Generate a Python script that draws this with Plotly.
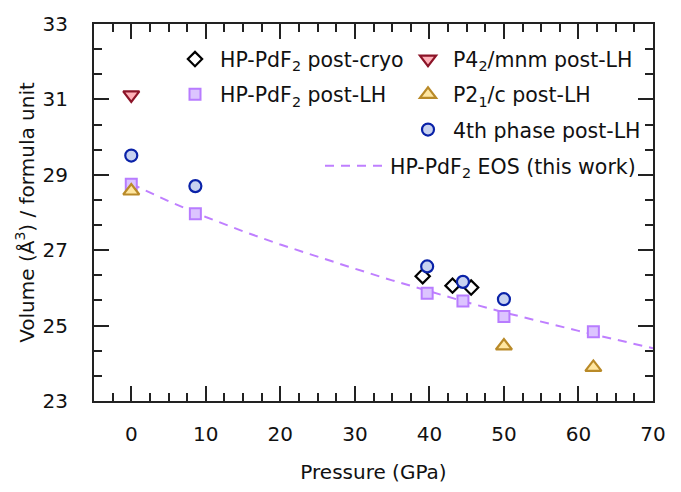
import plotly.graph_objects as go

# Pressure (GPa) and volume per formula unit (Å^3) for each phase
cryo_p = [39.1, 43.1, 45.6]
cryo_v = [26.31, 26.06, 26.01]

hp_lh_p = [0.0, 8.6, 39.7, 44.5, 50.0, 62.0]
hp_lh_v = [28.75, 27.97, 25.86, 25.65, 25.24, 24.84]

p42_p = [0.0]
p42_v = [31.12]

p21_p = [0.0, 50.0, 62.0]
p21_v = [28.57, 24.46, 23.89]

fourth_p = [0.0, 8.6, 39.7, 44.5, 50.0]
fourth_v = [29.51, 28.70, 26.57, 26.16, 25.70]

# HP-PdF2 equation of state curve
eos_p = [0, 5, 10, 15, 20, 25, 30, 35, 40, 45, 50, 55, 60, 65, 70]
eos_v = [28.76, 28.30, 27.88, 27.50, 27.15, 26.82, 26.51, 26.20, 25.90,
         25.62, 25.35, 25.10, 24.86, 24.63, 24.40]

FONT = "DejaVu Sans"
FS = 20
LEG_FS = 20.5
W, H = 681, 492
ML, MR, MT, MB = 94, 28, 19, 88
PW, PH = W - ML - MR, H - MT - MB


def px_x(x):
    return (x - ML) / PW


def px_y(y):
    return (H - MB - y) / PH


fig = go.Figure()

fig.add_trace(go.Scatter(
    x=eos_p, y=eos_v, mode="lines", name="HP-PdF<sub>2</sub> EOS (this work)",
    line=dict(color="#bf7fff", width=2, dash="9px,7px"), legend="legend6"))

fig.add_trace(go.Scatter(
    x=hp_lh_p, y=hp_lh_v, mode="markers", name="HP-PdF<sub>2</sub> post-LH",
    marker=dict(symbol="square", size=11, color="#dcc4ff",
                line=dict(color="#b87cff", width=2)), legend="legend2"))

fig.add_trace(go.Scatter(
    x=cryo_p, y=cryo_v, mode="markers", name="HP-PdF<sub>2</sub> post-cryo",
    marker=dict(symbol="diamond", size=11, color="white",
                line=dict(color="black", width=2.2)), legend="legend"))

fig.add_trace(go.Scatter(
    x=fourth_p, y=fourth_v, mode="markers", name="4th phase post-LH",
    marker=dict(symbol="circle", size=12, color="#c8d2f0",
                line=dict(color="#0a22a8", width=2.2)), legend="legend5"))

fig.add_trace(go.Scatter(
    x=p42_p, y=p42_v, mode="markers", name="P4<sub>2</sub>/mnm post-LH",
    marker=dict(symbol="triangle-down", size=14, color="#ffb0b8",
                line=dict(color="#8c1428", width=2.2)), legend="legend3"))

fig.add_trace(go.Scatter(
    x=p21_p, y=p21_v, mode="markers", name="P2<sub>1</sub>/c post-LH",
    marker=dict(symbol="triangle-up", size=14, color="#ffe6a0",
                line=dict(color="#b98a28", width=2.2)), legend="legend4"))


def leg(x_px, y_px, width=40):
    return dict(x=px_x(x_px), y=px_y(y_px), xanchor="left", yanchor="middle",
                bgcolor="rgba(0,0,0,0)", borderwidth=0, itemwidth=width,
                font=dict(family=FONT, size=LEG_FS, color="#111"))


fig.update_layout(
    width=W, height=H,
    margin=dict(l=ML, r=MR, t=MT, b=MB),
    paper_bgcolor="white", plot_bgcolor="white",
    font=dict(family=FONT, size=FS, color="#111"),
    showlegend=True,
    legend=leg(170, 55),
    legend2=leg(170, 91),
    legend3=leg(403, 55),
    legend4=leg(403, 91),
    legend5=leg(403, 127),
    legend6=leg(320, 164, 60),
)

axis_common = dict(
    showline=True, linewidth=2, linecolor="#222", mirror="ticks",
    ticks="inside", ticklen=15, tickwidth=2, tickcolor="#222",
    showgrid=False, zeroline=False,
    tickfont=dict(family=FONT, size=FS, color="#111"),
    title_font=dict(family=FONT, size=FS, color="#111"),
)

fig.update_xaxes(
    range=[-5, 70], tick0=0, dtick=10,
    minor=dict(ticks="inside", ticklen=8, tickwidth=2, tickcolor="#222",
               dtick=2.5, tick0=0),
    ticklabelstandoff=14,
    title_text="Pressure (GPa)", title_standoff=20,
    **axis_common)

fig.update_yaxes(
    range=[23, 33], tick0=23, dtick=2,
    minor=dict(ticks="inside", ticklen=8, tickwidth=2, tickcolor="#222",
               dtick=2 / 3, tick0=23),
    ticklabelstandoff=20,
    title_text="Volume (Å<sup>3</sup>) / formula unit", title_standoff=3,
    **axis_common)

fig.write_html("out.html")
